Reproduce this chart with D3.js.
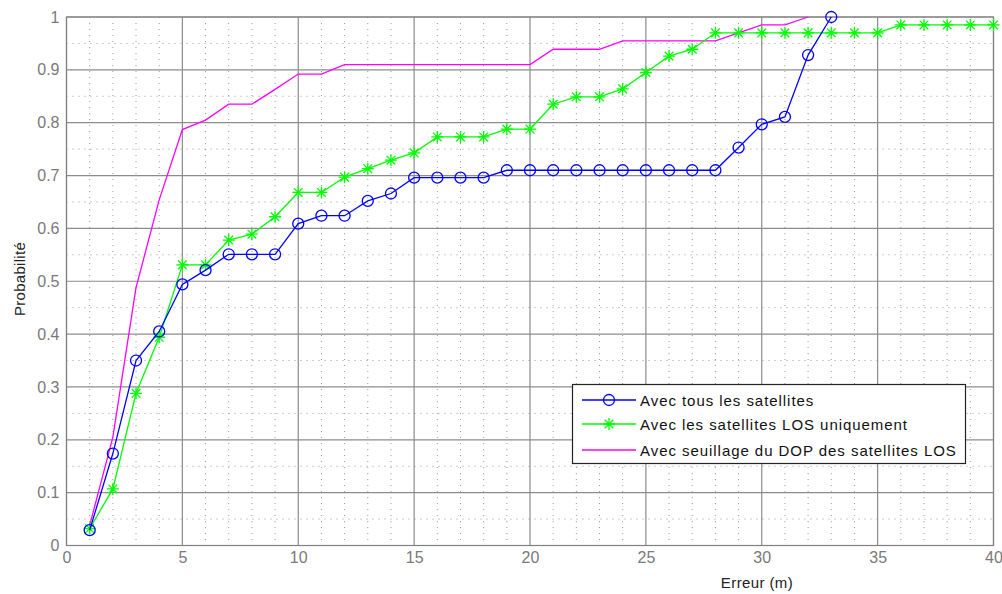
<!DOCTYPE html>
<html>
<head>
<meta charset="utf-8">
<script src="https://cdn.jsdelivr.net/npm/d3@7"></script>
<style>
  html, body { margin: 0; padding: 0; background: #fff; }
  svg { display: block; font-family: Arial, "Liberation Sans", sans-serif; }
</style>
</head>
<body>
<svg id="chart" width="1002" height="594"></svg>
<script>
// ---- Data ----
const xTicks = [0, 5, 10, 15, 20, 25, 30, 35, 40];
const yTicks = [0, 0.1, 0.2, 0.3, 0.4, 0.5, 0.6, 0.7, 0.8, 0.9, 1];
const yTickLabels = ["0", "0.1", "0.2", "0.3", "0.4", "0.5", "0.6", "0.7", "0.8", "0.9", "1"];

const xAll = [1,2,3,4,5,6,7,8,9,10,11,12,13,14,15,16,17,18,19,20,21,22,23,24,25,26,27,28,29,30,31,32,33,34,35,36,37,38,39,40];

const blueX = [1,2,3,4,5,6,7,8,9,10,11,12,13,14,15,16,17,18,19,20,21,22,23,24,25,26,27,28,29,30,31,32,33];
const blueY = [0.029,0.174,0.350,0.405,0.494,0.521,0.551,0.551,0.551,0.609,0.624,0.624,0.652,0.666,0.696,0.696,0.696,0.696,0.710,0.710,0.710,0.710,0.710,0.710,0.710,0.710,0.710,0.710,0.753,0.797,0.811,0.928,1.0];

const greenX = xAll;
const greenY = [0.032,0.107,0.288,0.394,0.531,0.531,0.578,0.589,0.622,0.668,0.668,0.697,0.713,0.729,0.743,0.773,0.773,0.773,0.788,0.788,0.835,0.849,0.849,0.864,0.895,0.926,0.939,0.970,0.970,0.970,0.970,0.970,0.970,0.970,0.970,0.985,0.985,0.985,0.985,0.985];

const magentaX = [1,2,3,4,5,6,7,8,9,10,11,12,13,14,15,16,17,18,19,20,21,22,23,24,25,26,27,28,29,30,31,32];
const magentaY = [0.038,0.205,0.488,0.654,0.787,0.805,0.835,0.835,0.863,0.892,0.892,0.910,0.910,0.910,0.910,0.910,0.910,0.910,0.910,0.910,0.939,0.939,0.939,0.955,0.955,0.955,0.955,0.955,0.970,0.985,0.985,1.0];

const seriesNames = ["Avec tous les satellites", "Avec les satellites LOS uniquement", "Avec seuillage du DOP des satellites LOS"];
const seriesColors = ["#0000ff", "#00ff00", "#ff00ff"];

// ---- Layout ----
const svg = d3.select("#chart");
const L = 66.5, R = 993.5, T = 17, B = 545.5;
const x = d3.scaleLinear().domain([0, 40]).range([L, R]);
const y = d3.scaleLinear().domain([0, 1]).range([B, T]);
const FONT = "Arial, 'Liberation Sans', sans-serif";

svg.append("rect").attr("width", 1002).attr("height", 594).attr("fill", "#fff");

const grid = svg.append("g");
// minor dotted grid
d3.range(1, 40).filter(v => v % 5 !== 0).forEach(v => {
  grid.append("line").attr("x1", x(v)).attr("x2", x(v)).attr("y1", T).attr("y2", B)
    .attr("stroke", "#9a9a9a").attr("stroke-width", 1).attr("stroke-dasharray", "1,5");
});
d3.range(0, 10).map(i => 0.05 + i * 0.1).forEach(v => {
  grid.append("line").attr("x1", L).attr("x2", R).attr("y1", y(v)).attr("y2", y(v))
    .attr("stroke", "#9a9a9a").attr("stroke-width", 1).attr("stroke-dasharray", "1,5");
});
// major grid
xTicks.forEach(v => {
  grid.append("line").attr("x1", x(v)).attr("x2", x(v)).attr("y1", T).attr("y2", B)
    .attr("stroke", "#8c8c8c").attr("stroke-width", 1.2);
});
yTicks.forEach(v => {
  grid.append("line").attr("x1", L).attr("x2", R).attr("y1", y(v)).attr("y2", y(v))
    .attr("stroke", "#8c8c8c").attr("stroke-width", 1.2);
});
svg.append("rect").attr("x", L).attr("y", T).attr("width", R - L).attr("height", B - T)
  .attr("fill", "none").attr("stroke", "#808080").attr("stroke-width", 1.2);

// axes (labels only)
const xAxis = d3.axisBottom(x).tickValues(xTicks).tickSize(0).tickPadding(6).tickFormat(d3.format("d"));
const gx = svg.append("g").attr("transform", `translate(0,${B})`).call(xAxis);
gx.select(".domain").remove();
gx.selectAll("text").attr("fill", "#7a7a7a").attr("font-size", 16).attr("font-family", FONT);

const yAxis = d3.axisLeft(y).tickValues(yTicks).tickSize(0).tickPadding(7).tickFormat((d, i) => yTickLabels[i]);
const gy = svg.append("g").attr("transform", `translate(${L},0)`).call(yAxis);
gy.select(".domain").remove();
gy.selectAll("text").attr("fill", "#7a7a7a").attr("font-size", 16).attr("font-family", FONT);

svg.append("text").attr("x", 757).attr("y", 588).attr("text-anchor", "middle")
  .attr("font-size", 15).attr("letter-spacing", 0.4).attr("fill", "#222").text("Erreur (m)");
svg.append("text").attr("transform", "translate(25,279) rotate(-90)").attr("text-anchor", "middle")
  .attr("font-size", 15).attr("letter-spacing", 0.3).attr("fill", "#222").text("Probabilité");

// ---- Series ----
const line = d3.line().x(d => x(d[0])).y(d => y(d[1]));
const blueData = blueX.map((v, i) => [v, blueY[i]]);
const greenData = greenX.map((v, i) => [v, greenY[i]]);
const magentaData = magentaX.map((v, i) => [v, magentaY[i]]);

function starPath(cx, cy, r) {
  const d = r * 0.72;
  return `M${cx - r},${cy}L${cx + r},${cy}M${cx},${cy - r}L${cx},${cy + r}` +
         `M${cx - d},${cy - d}L${cx + d},${cy + d}M${cx - d},${cy + d}L${cx + d},${cy - d}`;
}

svg.append("path").datum(magentaData).attr("d", line).attr("fill", "none")
  .attr("stroke", seriesColors[2]).attr("stroke-width", 1.3);

svg.append("path").datum(greenData).attr("d", line).attr("fill", "none")
  .attr("stroke", seriesColors[1]).attr("stroke-width", 1.3);
svg.append("g").selectAll("path").data(greenData).enter().append("path")
  .attr("d", d => starPath(x(d[0]), y(d[1]), 6)).attr("stroke", seriesColors[1]).attr("stroke-width", 1.3).attr("fill", "none");

svg.append("path").datum(blueData).attr("d", line).attr("fill", "none")
  .attr("stroke", seriesColors[0]).attr("stroke-width", 1.3);
svg.append("g").selectAll("circle").data(blueData).enter().append("circle")
  .attr("cx", d => x(d[0])).attr("cy", d => y(d[1])).attr("r", 5.5)
  .attr("fill", "none").attr("stroke", seriesColors[0]).attr("stroke-width", 1.3);

// ---- Legend ----
const lg = svg.append("g");
lg.append("rect").attr("x", 572.5).attr("y", 384.5).attr("width", 393).attr("height", 79)
  .attr("fill", "#fff").attr("stroke", "#222").attr("stroke-width", 1.2);
const rowsY = [400, 424, 450];
seriesNames.forEach((name, i) => {
  const yy = rowsY[i];
  lg.append("line").attr("x1", 582).attr("x2", 636).attr("y1", yy).attr("y2", yy)
    .attr("stroke", seriesColors[i]).attr("stroke-width", 1.3);
  if (i === 0) {
    lg.append("circle").attr("cx", 609).attr("cy", yy).attr("r", 5.5).attr("fill", "none")
      .attr("stroke", seriesColors[i]).attr("stroke-width", 1.3);
  } else if (i === 1) {
    lg.append("path").attr("d", starPath(609, yy, 6)).attr("stroke", seriesColors[i]).attr("stroke-width", 1.3);
  }
  lg.append("text").attr("x", 640).attr("y", yy + 5.5).attr("font-size", 15).attr("letter-spacing", 0.95)
    .attr("fill", "#111").text(name);
});
</script>
</body>
</html>
